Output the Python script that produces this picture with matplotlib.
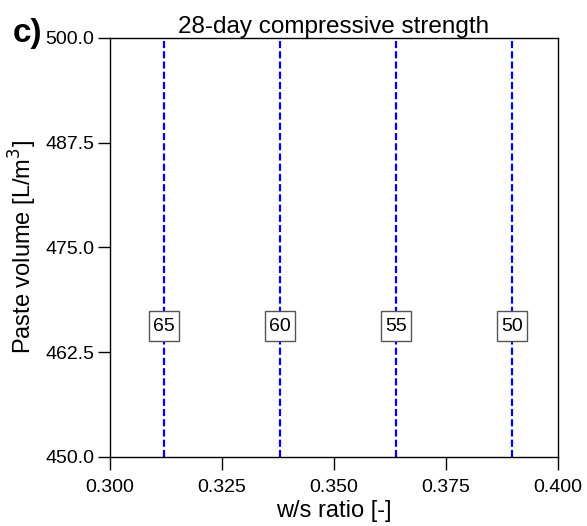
import matplotlib
matplotlib.use('Agg')
import matplotlib.pyplot as plt

plt.rcParams['font.family'] = ['Liberation Sans', 'DejaVu Sans']

# contour levels of 28-day strength (vertical in this panel)
strength_levels = [65, 60, 55, 50]
ws_at_level = [0.3120, 0.3380, 0.3638, 0.3897]
label_volume = 465.6

x_ticks = [0.300, 0.325, 0.350, 0.375, 0.400]
y_ticks = [450.0, 462.5, 475.0, 487.5, 500.0]

fig = plt.figure(figsize=(5.87, 5.26), dpi=100)
ax = fig.add_axes([0.1874, 0.1312, 0.7632, 0.7966])

for ws, lvl in zip(ws_at_level, strength_levels):
    ax.plot([ws, ws], [450, 500], color='#0000ff', lw=1.6, dashes=(3.2, 1.4), zorder=2)
    # square label box
    ax.plot(ws, label_volume, marker='s', ms=21.5, mfc='white', mec='#555555',
            mew=1.0, zorder=3)
    ax.text(ws, label_volume, str(lvl), ha='center', va='center', fontsize=14, zorder=4)

ax.set_xlim(0.3, 0.4)
ax.set_ylim(450, 500)
ax.set_xticks(x_ticks)
ax.set_xticklabels([f'{t:.3f}' for t in x_ticks])
ax.set_yticks(y_ticks)
ax.set_yticklabels([f'{t:.1f}' for t in y_ticks])
ax.tick_params(direction='out', length=9, width=1.0, labelsize=14)
ax.tick_params(axis='y', pad=2.5)
ax.tick_params(axis='x', pad=7)
for s in ax.spines.values():
    s.set_linewidth(1.0)

ax.set_xlabel('w/s ratio [-]', fontsize=17, labelpad=3)
ax.set_ylabel('Paste volume [L/m$^3$]', fontsize=17, labelpad=4)
ax.set_title('28-day compressive strength', fontsize=17.5, pad=2)
fig.text(0.022, 0.937, 'c)', fontsize=24, fontweight='bold', va='center')

fig.savefig('out.png', dpi=100)
